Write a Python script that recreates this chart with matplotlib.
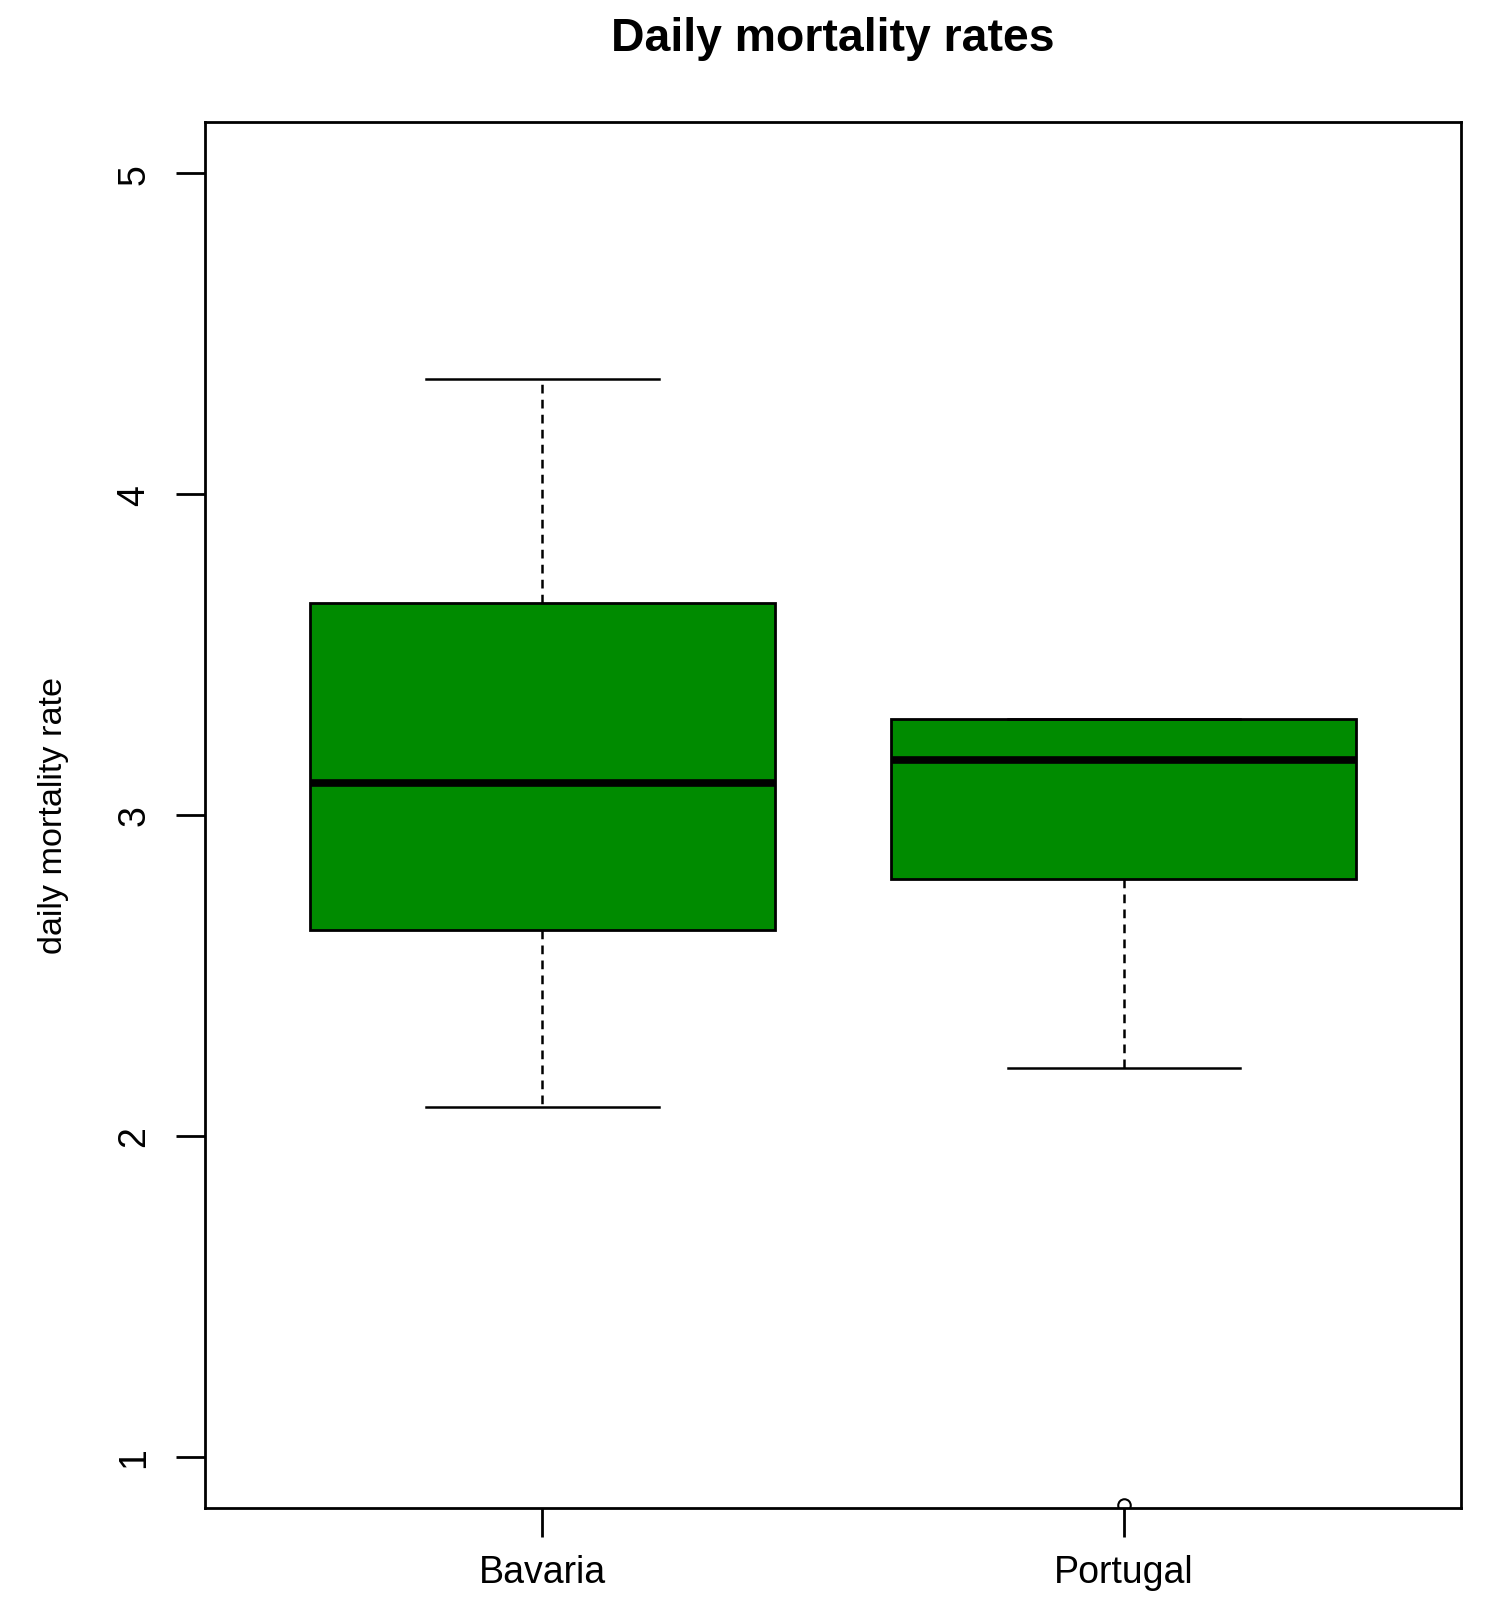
import matplotlib
matplotlib.use("Agg")
from matplotlib import pyplot as plt

plt.rcParams["font.family"] = ["Liberation Sans", "DejaVu Sans"]

# values
regions = ["Bavaria", "Portugal"]
whisker_low = [2.09, 2.21]
box_low = [2.64, 2.80]
medians = [3.10, 3.17]
box_high = [3.66, 3.30]
whisker_high = [4.36, 3.30]
outliers = [[], [0.85]]

y_ticks = [1, 2, 3, 4, 5]
box_color = "#008B00"


def main() -> None:
    fig = plt.figure(figsize=(14.94, 16.08), dpi=100)
    ax = fig.add_axes([0.1372, 0.0616, 0.8408, 0.8619])

    stats = []
    for i, name in enumerate(regions):
        stats.append(
            dict(
                label=name,
                whislo=whisker_low[i],
                q1=box_low[i],
                med=medians[i],
                q3=box_high[i],
                whishi=whisker_high[i],
                fliers=outliers[i],
            )
        )

    ax.bxp(
        stats,
        positions=[1, 2],
        widths=0.8,
        patch_artist=True,
        showfliers=True,
        boxprops=dict(facecolor=box_color, edgecolor="black", linewidth=2),
        medianprops=dict(color="black", linewidth=5.5, solid_capstyle="butt"),
        whiskerprops=dict(color="black", linewidth=1.8, linestyle=(0, (3.5, 2.5))),
        capprops=dict(color="black", linewidth=1.8),
        capwidths=0.4,
        flierprops=dict(marker="o", markersize=9, markerfacecolor="none",
                        markeredgecolor="black", markeredgewidth=1.5),
    )

    ax.set_xlim(0.42, 2.58)
    ax.set_ylim(0.84, 5.16)
    ax.set_yticks(y_ticks)
    ax.set_yticklabels([str(t) for t in y_ticks], rotation=90, va="center", fontsize=27)
    ax.set_xticks([1, 2])
    ax.set_xticklabels(regions, fontsize=27)
    ax.tick_params(axis="both", length=21, width=2, color="black")
    ax.tick_params(axis="x", pad=12.5)
    ax.tick_params(axis="y", pad=17)

    for side in ax.spines.values():
        side.set_linewidth(2)
        side.set_color("black")

    ax.set_ylabel("daily mortality rate", fontsize=24.6, labelpad=34)
    fig.suptitle("Daily mortality rates", fontsize=33.4, fontweight="bold",
                 x=0.5575, y=0.9757, va="center")

    fig.savefig("out.png", dpi=100)
    plt.close(fig)


if __name__ == "__main__":
    main()
